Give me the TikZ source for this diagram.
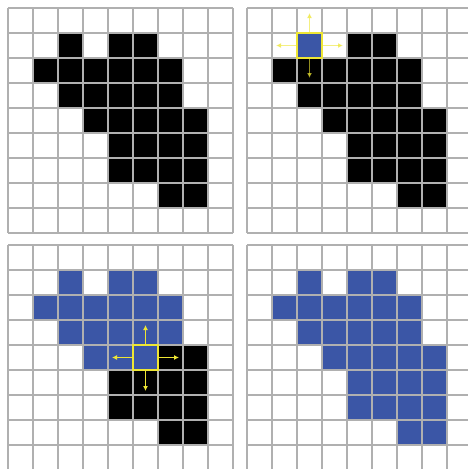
\documentclass[tikz,border=0pt]{standalone}
\usetikzlibrary{arrows.meta}
\definecolor{gridgray}{RGB}{176,176,176}
\definecolor{cellblue}{RGB}{59,86,166}
\definecolor{hiyellow}{RGB}{238,230,52}
\tikzset{
  gridline/.style={draw=gridgray, line width=1.3pt},
  blackcell/.style={fill=black},
  bluecell/.style={fill=cellblue},
  hicell/.style={draw=hiyellow, fill=cellblue, line width=1.4pt, minimum size=25pt, inner sep=0pt, outer sep=0pt, anchor=north west},
  probe/.style={draw=hiyellow, line width=1.7pt, -{Latex[length=5pt,width=5pt]}},
  fadedprobe/.style={probe, opacity=0.62}
}
\def\fullshape{2/1,4/1,5/1,1/2,2/2,3/2,4/2,5/2,6/2,2/3,3/3,4/3,5/3,6/3,3/4,4/4,5/4,6/4,7/4,4/5,5/5,6/5,7/5,4/6,5/6,6/6,7/6,6/7,7/7}
\def\blueshape{2/1,4/1,5/1,1/2,2/2,3/2,4/2,5/2,6/2,2/3,3/3,4/3,5/3,6/3,3/4,4/4,5/4}
\def\restshape{6/4,7/4,4/5,5/5,6/5,7/5,4/6,5/6,6/6,7/6,6/7,7/7}
\begin{document}
\begin{tikzpicture}[x=1pt,y=-1pt]
  \useasboundingbox (0,0) rectangle (468,469);
  \clip (0,0) rectangle (468,469);
  \fill[white] (0,0) rectangle (468,469);
  % top-left grid
  \begin{scope}[shift={(8,8)}]
    \foreach \c/\r in \fullshape {\fill[blackcell] (\c*25,\r*25) rectangle ++(25,25);}
    \foreach \i in {0,...,9} {\draw[gridline] (\i*25,0) -- (\i*25,225); \draw[gridline] (0,\i*25) -- (225,\i*25);}
  \end{scope}
  % top-right grid
  \begin{scope}[shift={(247,8)}]
    \foreach \c/\r in \fullshape {\fill[blackcell] (\c*25,\r*25) rectangle ++(25,25);}
    \foreach \i in {0,...,9} {\draw[gridline] (\i*25,0) -- (\i*25,225); \draw[gridline] (0,\i*25) -- (225,\i*25);}
    \node[hicell] (ha) at (50,25) {};
    \coordinate (haN) at (62.5,5);
    \coordinate (haS) at (62.5,70);
    \coordinate (haW) at (29,37.5);
    \coordinate (haE) at (96,37.5);
    \draw[fadedprobe] (ha.north) -- (haN);
    \draw[fadedprobe] (ha.south) -- (haS);
    \draw[fadedprobe] (ha.west) -- (haW);
    \draw[fadedprobe] (ha.east) -- (haE);
  \end{scope}
  % bottom-left grid
  \begin{scope}[shift={(8,245)}]
    \foreach \c/\r in \blueshape {\fill[bluecell] (\c*25,\r*25) rectangle ++(25,25);}
    \foreach \c/\r in \restshape {\fill[blackcell] (\c*25,\r*25) rectangle ++(25,25);}
    \foreach \i in {0,...,9} {\draw[gridline] (\i*25,0) -- (\i*25,225); \draw[gridline] (0,\i*25) -- (225,\i*25);}
    \node[hicell] (hb) at (125,100) {};
    \coordinate (hbN) at (137.5,80);
    \coordinate (hbS) at (137.5,146);
    \coordinate (hbW) at (104,112.5);
    \coordinate (hbE) at (171,112.5);
    \draw[probe] (hb.north) -- (hbN);
    \draw[probe] (hb.south) -- (hbS);
    \draw[probe] (hb.west) -- (hbW);
    \draw[probe] (hb.east) -- (hbE);
  \end{scope}
  % bottom-right grid
  \begin{scope}[shift={(247,245)}]
    \foreach \c/\r in \fullshape {\fill[bluecell] (\c*25,\r*25) rectangle ++(25,25);}
    \foreach \i in {0,...,9} {\draw[gridline] (\i*25,0) -- (\i*25,225); \draw[gridline] (0,\i*25) -- (225,\i*25);}
  \end{scope}
\end{tikzpicture}
\end{document}
